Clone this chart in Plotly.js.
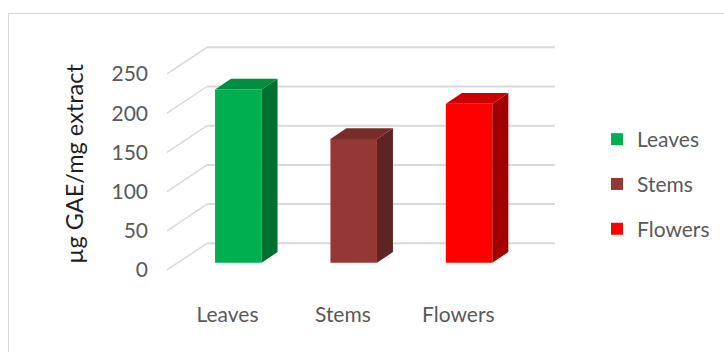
<!DOCTYPE html>
<html>
<head>
<meta charset="utf-8">
<script src="https://cdn.plot.ly/plotly-3.0.1.min.js"></script>
<style>
  html, body { margin: 0; padding: 0; background: #ffffff; }
  #chart { width: 724px; height: 352px; }
</style>
</head>
<body>
<div id="chart"></div>
<script>
// Total phenolic content per plant part
const categories = ['Leaves', 'Stems', 'Flowers'];
const values = [221, 158, 203];
const yTickValues = [0, 50, 100, 150, 200, 250];
const yTitle = 'µg GAE/mg extract';

// Face colours: front, top, side
const frontColors = ['#00B050', '#953735', '#FF0000'];
const topColors = ['#008F40', '#782C2A', '#CC0000'];
const sideColors = ['#00702F', '#5F2321', '#A30000'];

// Oblique 3D projection, expressed in axis units
const DEPTH_X = 0.3466;   // x shift from front plane to back wall
const DEPTH_Y = 34.06;    // y shift from front plane to back wall
const BAR_FRONT = 0.27;   // depth of the bar front faces (0 = front, 1 = back)
const BAR_BACK = 0.67;    // depth of the bar back faces
const BAR_HALF = 0.2015;  // half width of a bar
const X_MIN = -0.52426, X_MAX = 2.88128;
const Y_MIN = -35.71, Y_MAX = 306.12;
const WALL_RIGHT = 2.49;

const textFont = 'Lato, "Open Sans", sans-serif';
const gridColor = '#D9D9D9';

const traces = [];
const dd = BAR_BACK - BAR_FRONT;
const base = BAR_FRONT * DEPTH_Y;

categories.forEach((cat, i) => {
  const v = values[i];
  const xc = i + BAR_FRONT * DEPTH_X;
  // front face
  traces.push({
    type: 'bar', name: cat, legendgroup: cat,
    x: [xc], y: [v], base: [base], width: [2 * BAR_HALF],
    marker: { color: frontColors[i], line: { width: 0 } },
    hoverinfo: 'skip'
  });
});

categories.forEach((cat, i) => {
  const v = values[i];
  const xc = i + BAR_FRONT * DEPTH_X;
  const xl = xc - BAR_HALF, xr = xc + BAR_HALF;
  const ox = dd * DEPTH_X, oy = dd * DEPTH_Y;
  // side face
  traces.push({
    type: 'scatter', mode: 'lines', showlegend: false, legendgroup: cat,
    x: [xr, xr + ox, xr + ox, xr, xr],
    y: [base, base + oy, base + oy + v, base + v, base],
    fill: 'toself', fillcolor: sideColors[i], line: { width: 0, color: sideColors[i] },
    hoverinfo: 'skip'
  });
  // top face
  traces.push({
    type: 'scatter', mode: 'lines', showlegend: false, legendgroup: cat,
    x: [xl, xr, xr + ox, xl + ox, xl],
    y: [base + v, base + v, base + v + oy, base + v + oy, base + v],
    fill: 'toself', fillcolor: topColors[i], line: { width: 0, color: topColors[i] },
    hoverinfo: 'skip'
  });
});

// Side-wall and back-wall gridlines
const shapes = [];
yTickValues.forEach(v => {
  shapes.push({
    type: 'line', xref: 'x', yref: 'y', layer: 'below',
    x0: X_MIN, y0: v, x1: X_MIN + DEPTH_X, y1: v + DEPTH_Y,
    line: { color: gridColor, width: 1.5 }
  });
  shapes.push({
    type: 'line', xref: 'x', yref: 'y', layer: 'below',
    x0: X_MIN + DEPTH_X, y0: v + DEPTH_Y, x1: WALL_RIGHT + DEPTH_X, y1: v + DEPTH_Y,
    line: { color: gridColor, width: 2 }
  });
});

// Chart frame
shapes.push({
  type: 'rect', xref: 'paper', yref: 'paper', layer: 'below',
  x0: (8.5 - 167) / 393, x1: (740 - 167) / 393,
  y0: (298 - 370) / 268, y1: (298 - 13.5) / 268,
  line: { color: '#D9D9D9', width: 1 }, fillcolor: 'rgba(0,0,0,0)'
});

const layout = {
  width: 724, height: 352,
  margin: { l: 167, r: 164, t: 30, b: 54 },
  paper_bgcolor: '#ffffff', plot_bgcolor: 'rgba(0,0,0,0)',
  barmode: 'overlay',
  showlegend: true,
  legend: {
    xref: 'container', yref: 'container',
    x: 597 / 724, y: 1 - 119 / 352, xanchor: 'left', yanchor: 'top',
    font: { family: textFont, size: 21, color: '#595959' },
    tracegroupgap: 14.5, traceorder: 'grouped',
    bgcolor: 'rgba(0,0,0,0)'
  },
  xaxis: {
    type: 'linear', range: [X_MIN, X_MAX],
    tickmode: 'array', tickvals: categories.map((c, i) => i), ticktext: categories,
    showgrid: false, zeroline: false, showline: false, ticks: '',
    ticklabelstandoff: 2,
    tickfont: { family: textFont, size: 21, color: '#595959' },
    fixedrange: true
  },
  yaxis: {
    range: [Y_MIN, Y_MAX],
    tickmode: 'array', tickvals: yTickValues, ticktext: yTickValues.map(String),
    showgrid: false, zeroline: false, showline: false, ticks: '',
    ticklabelstandoff: 18,
    tickfont: { family: textFont, size: 21, color: '#595959' },
    title: { text: yTitle, font: { family: textFont, size: 23.5, color: '#1f1f1f' }, standoff: 21 },
    automargin: false,
    fixedrange: true
  },
  shapes: shapes
};

Plotly.newPlot('chart', traces, layout, { displayModeBar: false, staticPlot: true });
</script>
</body>
</html>
